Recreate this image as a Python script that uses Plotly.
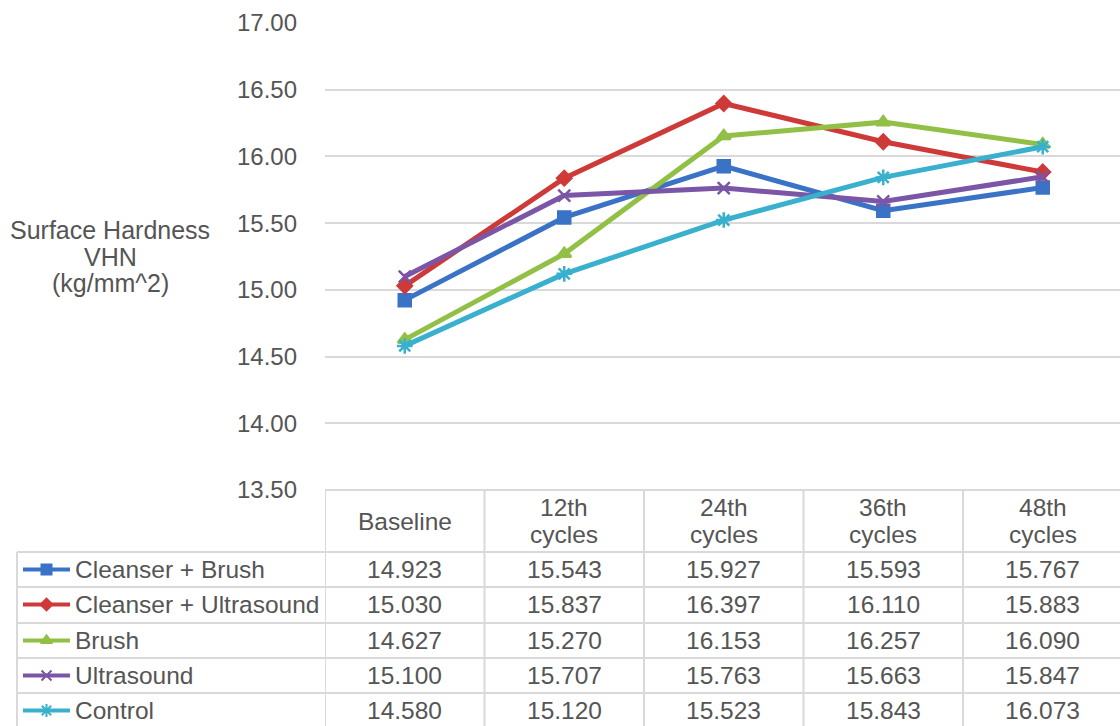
import plotly.graph_objects as go

# Measurement points and surface hardness means (VHN, kg/mm^2)
categories = ["Baseline", "12th cycles", "24th cycles", "36th cycles", "48th cycles"]
series_names = ["Cleanser + Brush", "Cleanser + Ultrasound", "Brush", "Ultrasound", "Control"]
cleanser_brush = [14.923, 15.543, 15.927, 15.593, 15.767]
cleanser_ultrasound = [15.030, 15.837, 16.397, 16.110, 15.883]
brush = [14.627, 15.270, 16.153, 16.257, 16.090]
ultrasound = [15.100, 15.707, 15.763, 15.663, 15.847]
control = [14.580, 15.120, 15.523, 15.843, 16.073]
y_ticks = [13.5, 14.0, 14.5, 15.0, 15.5, 16.0, 16.5, 17.0]
y_title = ["Surface Hardness", "VHN", "(kg/mm^2)"]

series_values = [cleanser_brush, cleanser_ultrasound, brush, ultrasound, control]
colors = ["#3A72C6", "#CE3A38", "#92C046", "#7B55A6", "#38B0CE"]
symbols = ["square", "diamond", "triangle-up", "x-thin-open", "asterisk-open"]
sizes = [12, 11, 12, 12, 13]

W, H = 1120, 726
PLOT_L, PLOT_T, PLOT_B = 325, 23, 490
COL_W = 159.5
ROW_TOPS = [552, 587, 623, 658, 693]
TEXT = "#555555"
GRID = "#D9D9D9"
FONT = "Liberation Sans, Arial, sans-serif"
FS = 24.5

x_idx = list(range(len(categories)))
x_lo = -0.5
x_hi = x_lo + (W - PLOT_L) / COL_W

fig = go.Figure()

for name, vals, col, sym, sz in zip(series_names, series_values, colors, symbols, sizes):
    fig.add_trace(go.Scatter(
        x=x_idx, y=vals, mode="lines+markers", name=name,
        line=dict(color=col, width=5),
        marker=dict(symbol=sym, size=sz, color=col, line=dict(color=col, width=2.5)),
        xaxis="x", yaxis="y", showlegend=False,
    ))

# legend keys inside the data table (pixel-space overlay axes)
for i, (name, col, sym, sz) in enumerate(zip(series_names, colors, symbols, sizes)):
    top = ROW_TOPS[i]
    yc = top + 17.5
    fig.add_trace(go.Scatter(
        x=[23, 70], y=[yc, yc], mode="lines", line=dict(color=col, width=4),
        xaxis="x2", yaxis="y2", showlegend=False, hoverinfo="skip",
    ))
    fig.add_trace(go.Scatter(
        x=[46.5], y=[yc], mode="markers",
        marker=dict(symbol=sym, size=sz - 2, color=col, line=dict(color=col, width=2)),
        xaxis="x2", yaxis="y2", showlegend=False, hoverinfo="skip",
    ))

shapes = []
ann = []

def line(x0, y0, x1, y1, xref="x2"):
    shapes.append(dict(type="line", xref=xref, yref="y2", x0=x0, y0=y0, x1=x1, y1=y1,
                       line=dict(color=GRID, width=2), layer="below"))

# table grid
line(x_lo, PLOT_B, x_hi, PLOT_B, xref="x")
for t in ROW_TOPS:
    line(17, t, W, t)
line(17, ROW_TOPS[0], 17, H)
for k in range(len(categories)):
    line(x_lo + k, PLOT_B, x_lo + k, H, xref="x")

# header cells
for k, cat in enumerate(categories):
    parts = cat.split(" ")
    yc = (PLOT_B + ROW_TOPS[0]) / 2
    offs = [0] if len(parts) == 1 else [-13.5, 13.5]
    for p, o in zip(parts, offs):
        ann.append(dict(x=k, y=yc + o, xref="x", yref="y2", text=p, showarrow=False,
                        font=dict(family=FONT, size=FS, color=TEXT),
                        xanchor="center", yanchor="middle"))

# data cells and series names
for i, (name, vals) in enumerate(zip(series_names, series_values)):
    yc = ROW_TOPS[i] + 17.5
    ann.append(dict(x=73, y=yc, xref="x2", yref="y2", text=name, showarrow=False,
                    font=dict(family=FONT, size=FS, color=TEXT),
                    xanchor="left", yanchor="middle"))
    for k, v in enumerate(vals):
        ann.append(dict(x=k, y=yc, xref="x", yref="y2", text=f"{v:.3f}", showarrow=False,
                        font=dict(family=FONT, size=FS, color=TEXT),
                        xanchor="center", yanchor="middle"))

# y-axis title
for j, t in enumerate(y_title):
    ann.append(dict(x=110, y=230 + 26.5 * j, xref="x2", yref="y2", text=t, showarrow=False,
                    font=dict(family=FONT, size=25, color=TEXT),
                    xanchor="center", yanchor="middle"))

fig.update_layout(
    width=W, height=H, autosize=False,
    margin=dict(l=0, r=0, t=0, b=0, pad=0, autoexpand=False),
    paper_bgcolor="white", plot_bgcolor="rgba(0,0,0,0)",
    xaxis=dict(domain=[PLOT_L / W, 1], range=[x_lo, x_hi], showgrid=False,
               showticklabels=False, zeroline=False, showline=False, fixedrange=True,
               automargin=False),
    yaxis=dict(domain=[1 - PLOT_B / H, 1 - PLOT_T / H], range=[13.5, 17.0],
               tickvals=y_ticks, ticktext=[f"{v:.2f}" for v in y_ticks],
               showgrid=True, gridcolor=GRID, gridwidth=2, zeroline=False, showline=False,
               ticks="", ticklabelstandoff=27, automargin=False,
               tickfont=dict(family=FONT, size=24, color=TEXT), fixedrange=True),
    xaxis2=dict(domain=[0, 1], range=[0, W], anchor="y2", visible=False, fixedrange=True,
                automargin=False),
    yaxis2=dict(domain=[0, 1], range=[H, 0], anchor="x2", visible=False, fixedrange=True,
                automargin=False),
    shapes=shapes, annotations=ann,
)

fig.write_html("out.html")
